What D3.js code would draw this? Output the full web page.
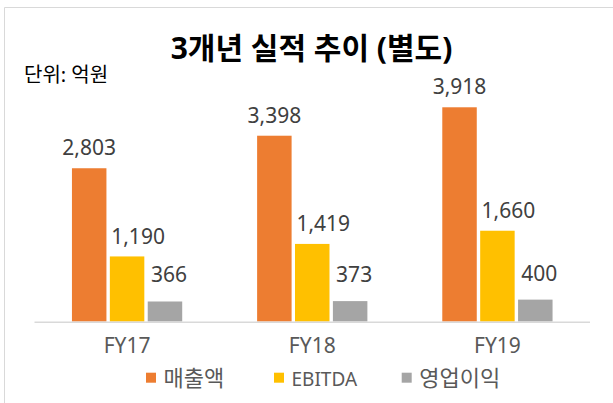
<!DOCTYPE html>
<html><head><meta charset="utf-8">
<script src="https://cdn.jsdelivr.net/npm/d3@7"></script>
<style>
html,body{margin:0;padding:0;background:#fff;}
svg{display:block;}
text{font-family:"Noto Sans","Noto Sans CJK KR",sans-serif;}
</style></head>
<body>
<svg id="chart" width="613" height="403"></svg>
<script>
const title = "3개년 실적 추이 (별도)";
const unitLabel = "단위: 억원";
const categories = ["FY17", "FY18", "FY19"];
const seriesNames = ["매출액", "EBITDA", "영업이익"];
const revenue = [2803, 3398, 3918];
const ebitda = [1190, 1419, 1660];
const operatingProfit = [366, 373, 400];
const seriesValues = [revenue, ebitda, operatingProfit];
const colors = ["#ED7D31", "#FFC000", "#A5A5A5"];

const svg = d3.select("#chart");
const W = 613, H = 403;
svg.append("rect").attr("width", W).attr("height", H).attr("fill", "#fff");

// frame (top and left edges)
svg.append("line").attr("x1", 4.5).attr("x2", W).attr("y1", 7.5).attr("y2", 7.5)
  .attr("stroke", "#d9d9d9").attr("stroke-width", 1);
svg.append("line").attr("x1", 4.5).attr("x2", 4.5).attr("y1", 7.5).attr("y2", H)
  .attr("stroke", "#d9d9d9").attr("stroke-width", 1);

const x0 = d3.scaleBand().domain(categories).range([34.5, 590])
  .paddingInner(0.4045).paddingOuter(0.20225);
const x1 = d3.scaleBand().domain(d3.range(seriesNames.length)).range([0, x0.bandwidth()])
  .paddingInner(0.09).paddingOuter(0);
const y = d3.scaleLinear().domain([0, 4000]).range([321.5, 102.8]);

// title
svg.append("text").attr("x", 311.5).attr("y", 59).attr("text-anchor", "middle")
  .attr("font-size", 30).attr("font-weight", "bold").attr("fill", "#000").text(title);
svg.append("text").attr("x", 24).attr("y", 82)
  .attr("font-size", 20).attr("fill", "#000").text(unitLabel);

// bars
const rows = [];
categories.forEach((c, i) => seriesValues.forEach((vals, s) => rows.push({c, s, v: vals[i]})));

const g = svg.append("g");
g.selectAll("rect.bar").data(rows).join("rect").attr("class", "bar")
  .attr("x", d => x0(d.c) + x1(d.s))
  .attr("width", x1.bandwidth())
  .attr("y", d => y(d.v))
  .attr("height", d => y(0) - y(d.v))
  .attr("fill", d => colors[d.s]);

// data labels
const labelGap = [13, 12.8, 19];
const labelDx = [0, 11, 4];
const fmt = d3.format(",");
g.selectAll("text.lbl").data(rows).join("text").attr("class", "lbl")
  .attr("x", d => x0(d.c) + x1(d.s) + x1.bandwidth() / 2 + labelDx[d.s])
  .attr("y", d => y(d.v) - labelGap[d.s])
  .attr("text-anchor", "middle").attr("font-size", 21).attr("fill", "#404040")
  .text(d => fmt(d.v));

// x axis
const xAxis = svg.append("g").attr("transform", `translate(0,${y(0)})`)
  .call(d3.axisBottom(x0).tickSize(0).tickPadding(0));
xAxis.select(".domain").attr("stroke", "#d9d9d9").attr("stroke-width", 1.5)
  .attr("d", "M34.5,0.75H590");
xAxis.selectAll(".tick text").attr("font-size", 21).attr("fill", "#595959")
  .attr("font-family", "'Noto Sans','Noto Sans CJK KR',sans-serif")
  .attr("dy", null).attr("y", 31.5);

// legend
const legX = [146, 274, 401.7];
const leg = svg.append("g");
seriesNames.forEach((n, i) => {
  leg.append("rect").attr("x", legX[i]).attr("y", 372.7).attr("width", 10).attr("height", 10)
    .attr("fill", colors[i]);
  leg.append("text").attr("x", legX[i] + 17.5).attr("y", 386)
    .attr("font-size", i === 1 ? 19 : 22).attr("fill", "#595959").text(n);
});
</script>
</body></html>
